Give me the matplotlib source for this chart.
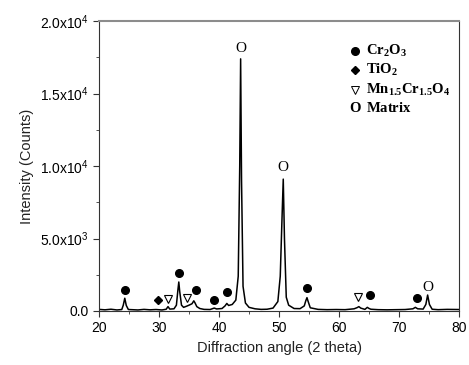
import matplotlib
matplotlib.use("Agg")
import matplotlib.pyplot as plt
from matplotlib.ticker import MultipleLocator, FixedLocator

plt.rcParams['font.family'] = ['Liberation Sans', 'DejaVu Sans']
plt.rcParams['mathtext.fontset'] = 'custom'
plt.rcParams['mathtext.rm'] = 'Liberation Sans'
plt.rcParams['mathtext.bf'] = 'Liberation Serif:bold'

# XRD pattern (2 theta, counts)
two_theta = [20.0, 21.0, 22.0, 23.0, 23.8, 24.05, 24.3, 24.55, 24.9, 25.5, 26.5, 27.5,
             28.5, 29.5, 30.5, 31.2, 31.5, 31.8, 32.5, 32.9, 33.15, 33.3, 33.45, 33.75,
             34.1, 34.6, 35.0, 35.5, 35.8, 36.0, 36.3, 36.8, 37.5, 38.5, 39.2, 39.6,
             40.5, 41.0, 41.3, 41.6, 42.2, 42.8, 43.2, 43.45, 43.6, 43.75, 44.0, 44.4,
             45.0, 46.0, 47.0, 48.0, 49.0, 49.8, 50.2, 50.5, 50.7, 50.9, 51.2, 51.6,
             52.5, 53.5, 54.2, 54.45, 54.65, 54.85, 55.2, 56.5, 58.0, 59.5, 61.0, 62.5,
             63.0, 63.3, 63.6, 64.3, 64.7, 65.0, 65.3, 66.5, 68.0, 69.5, 71.0, 72.3,
             72.7, 73.1, 74.0, 74.45, 74.75, 75.05, 75.5, 76.5, 78.0, 80.0]
counts = [110, 80, 120, 70, 100, 400, 880, 380, 100, 90, 70, 110,
          80, 100, 70, 120, 300, 130, 150, 400, 1450, 2000, 1350, 400,
          250, 330, 400, 500, 700, 560, 300, 170, 110, 100, 200, 140,
          170, 350, 520, 380, 450, 750, 2400, 10000, 17400, 9000, 1700, 550,
          250, 150, 110, 120, 200, 650, 2400, 6500, 9100, 5000, 950, 400,
          170, 160, 350, 700, 920, 650, 220, 110, 90, 100, 90, 150,
          230, 300, 200, 110, 250, 170, 120, 90, 80, 90, 100, 150,
          250, 150, 130, 450, 1100, 450, 120, 90, 110, 100]

# phase markers (2 theta, height)
cr2o3_x = [24.3, 33.3, 36.2, 39.1, 41.3, 54.7, 65.2, 72.9]
cr2o3_y = [1450, 2600, 1450, 750, 1300, 1600, 1100, 900]
tio2_x = [29.8]
tio2_y = [750]
spinel_x = [31.5, 34.7, 63.2]
spinel_y = [830, 900, 970]
matrix_x = [43.6, 50.7, 74.8]
matrix_y = [18100, 9900, 1650]

fig = plt.figure(figsize=(4.69, 3.65), dpi=100)
ax = fig.add_axes([0.211, 0.148, 0.768, 0.794])

ax.plot(two_theta, counts, color='black', lw=1.1)

ax.plot(cr2o3_x, cr2o3_y, 'o', color='black', ms=5.5, ls='none')
ax.plot(tio2_x, tio2_y, 'D', color='black', ms=4, ls='none')
ax.plot(spinel_x, spinel_y, 'v', mfc='white', mec='black', mew=0.8, ms=6, ls='none')
for x, y in zip(matrix_x, matrix_y):
    ax.text(x, y, 'O', family='Liberation Serif', fontsize=11, ha='center', va='center')

# legend written as text, like the original
leg_x = 0.712
leg_y = [0.897, 0.831, 0.763, 0.700]
ax.plot([leg_x], [leg_y[0]], 'o', color='black', ms=5.5, transform=ax.transAxes, clip_on=False)
ax.plot([leg_x], [leg_y[1]], 'D', color='black', ms=4, transform=ax.transAxes, clip_on=False)
ax.plot([leg_x], [leg_y[2]], 'v', mfc='white', mec='black', mew=0.7, ms=6,
        transform=ax.transAxes, clip_on=False)
ax.text(leg_x, leg_y[3], 'O', family='Liberation Serif', fontsize=10.5, weight='bold',
        ha='center', va='center', transform=ax.transAxes)
labels = [r'$\mathbf{Cr_2O_3}$', r'$\mathbf{TiO_2}$', r'$\mathbf{Mn_{1.5}Cr_{1.5}O_4}$',
          r'$\mathbf{Matrix}$']
for lab, y in zip(labels, leg_y):
    ax.text(leg_x + 0.03, y, lab, fontsize=10.5, ha='left', va='center',
            transform=ax.transAxes)

ax.set_xlim(20, 80)
ax.set_ylim(0, 20000)
ax.xaxis.set_major_locator(MultipleLocator(10))
ax.xaxis.set_minor_locator(MultipleLocator(5))
ax.yaxis.set_major_locator(FixedLocator([0, 5000, 10000, 15000, 20000]))
ax.yaxis.set_minor_locator(MultipleLocator(2500))
ax.set_yticklabels(['0.0', r'5.0x10$^3$', r'1.0x10$^4$', r'1.5x10$^4$', r'2.0x10$^4$'])
ax.tick_params(which='both', direction='out', labelsize=10, color='#333333')
ax.tick_params(which='major', length=4)
ax.tick_params(which='minor', length=2.5)

ax.spines['top'].set_color('#8c8c8c')
ax.spines['top'].set_linewidth(1.5)
for s in ['left', 'right', 'bottom']:
    ax.spines[s].set_color('#333333')

ax.set_xlabel('Diffraction angle (2 theta)', fontsize=10.5, color='#222222')
ax.set_ylabel('Intensity (Counts)', fontsize=10.5, color='#222222')

fig.savefig('out.png', dpi=100)
